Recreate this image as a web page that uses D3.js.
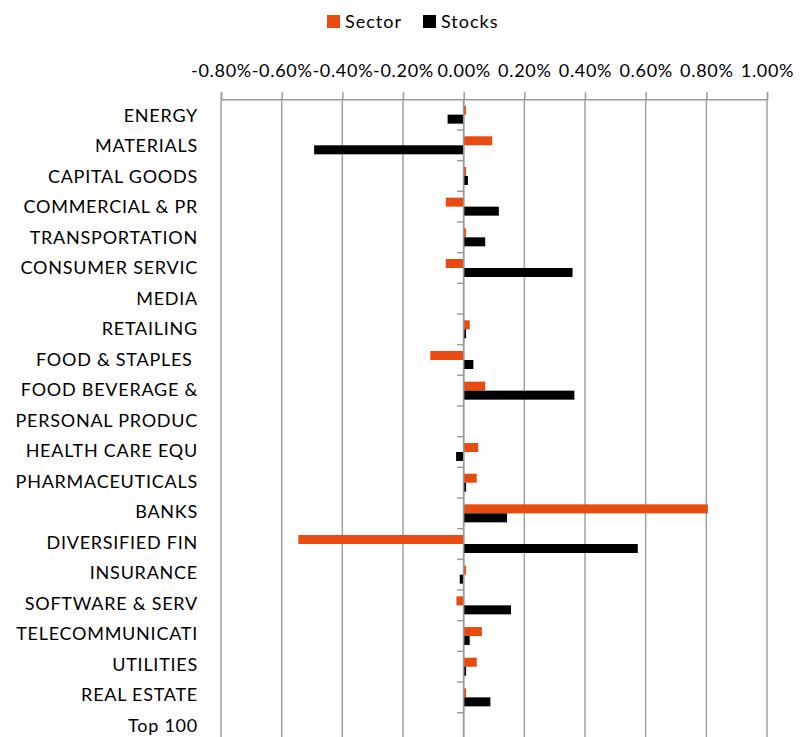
<!DOCTYPE html>
<html>
<head>
<meta charset="utf-8">
<script src="https://cdn.jsdelivr.net/npm/d3@7/dist/d3.min.js"></script>
<style>
  html, body { margin: 0; padding: 0; background: #fff; }
  svg { display: block; }
  text { font-family: Lato, "Open Sans", sans-serif; fill: #000; }
</style>
</head>
<body>
<svg id="chart" width="809" height="737"></svg>
<script>
// Sector vs. stock contribution by industry group (values in %)
const categories = [
  "ENERGY", "MATERIALS", "CAPITAL GOODS", "COMMERCIAL & PR", "TRANSPORTATION",
  "CONSUMER SERVIC", "MEDIA", "RETAILING", "FOOD & STAPLES ", "FOOD BEVERAGE &",
  "PERSONAL PRODUC", "HEALTH CARE EQU", "PHARMACEUTICALS", "BANKS", "DIVERSIFIED FIN",
  "INSURANCE", "SOFTWARE & SERV", "TELECOMMUNICATI", "UTILITIES", "REAL ESTATE", "Top 100"
];
const seriesNames = ["Sector", "Stocks"];
const sectorValues = [
  0.008, 0.094, 0.008, -0.059, 0.008,
  -0.059, 0, 0.020, -0.110, 0.071,
  0, 0.048, 0.043, 0.805, -0.545,
  0.008, -0.024, 0.060, 0.043, 0.008, 0
];
const stocksValues = [
  -0.053, -0.493, 0.014, 0.116, 0.071,
  0.359, 0, 0.008, 0.032, 0.365,
  0, -0.025, 0.008, 0.143, 0.574,
  -0.013, 0.156, 0.020, 0.008, 0.088, 0
];
const tickValues = [-0.8, -0.6, -0.4, -0.2, 0, 0.2, 0.4, 0.6, 0.8, 1.0];
const colors = { Sector: "#E84A10", Stocks: "#000000" };

const rows = categories.map((c, i) => ({
  category: c,
  values: [
    { series: "Sector", value: sectorValues[i] },
    { series: "Stocks", value: stocksValues[i] }
  ]
}));

const svg = d3.select("#chart");
const plot = { left: 221, right: 767, top: 99.3, bandH: 30.67 };
const plotBottom = plot.top + plot.bandH * categories.length;

const x = d3.scaleLinear().domain([-0.8, 1.0]).range([plot.left, plot.right]);
const y = d3.scaleBand().domain(categories).range([plot.top, plotBottom]).padding(0);
const barH = 9;
const ySub = d3.scaleBand().domain(seriesNames)
  .range([y.bandwidth() / 2 - barH, y.bandwidth() / 2 + barH]).padding(0);
// label baselines run on a slightly tighter pitch than the bands
const yLabel = d3.scalePoint().domain(categories).range([121.7, 731.7]);

// vertical gridlines
svg.append("g")
  .selectAll("line")
  .data(tickValues)
  .join("line")
  .attr("x1", d => x(d)).attr("x2", d => x(d))
  .attr("y1", plot.top).attr("y2", plotBottom)
  .attr("stroke", "#a0a0a0").attr("stroke-width", 1.5);

// value axis along the top
const xAxis = svg.append("g")
  .attr("transform", `translate(0,${plot.top})`)
  .call(d3.axisTop(x).tickValues(tickValues).tickSize(7).tickPadding(15)
    .tickFormat(d => d.toFixed(2) + "%"));
xAxis.select(".domain").attr("stroke", "#9a9a9a").attr("stroke-width", 1.5);
xAxis.selectAll(".tick line").attr("stroke", "#9a9a9a").attr("stroke-width", 1.5);
xAxis.selectAll(".tick text")
  .attr("font-family", "Lato, sans-serif").attr("font-size", 18)
  .attr("letter-spacing", 0.7).attr("fill", "#000");

// bars
const groups = svg.append("g")
  .selectAll("g")
  .data(rows)
  .join("g")
  .attr("transform", d => `translate(0,${y(d.category)})`);

groups.selectAll("rect")
  .data(d => d.values)
  .join("rect")
  .attr("x", d => x(Math.min(0, d.value)))
  .attr("width", d => Math.abs(x(d.value) - x(0)))
  .attr("y", d => ySub(d.series))
  .attr("height", ySub.bandwidth())
  .attr("fill", d => colors[d.series]);

// category axis at zero, ticks between bands
const bounds = d3.range(categories.length + 1).map(i => plot.top + i * plot.bandH);
svg.append("line")
  .attr("x1", x(0)).attr("x2", x(0))
  .attr("y1", plot.top).attr("y2", plotBottom)
  .attr("stroke", "#9a9a9a").attr("stroke-width", 1.5);
svg.append("g")
  .selectAll("line")
  .data(bounds.slice(1))
  .join("line")
  .attr("x1", x(0) - 6.5).attr("x2", x(0))
  .attr("y1", d => d).attr("y2", d => d)
  .attr("stroke", "#9a9a9a").attr("stroke-width", 1.5);

// category labels at the low side
svg.append("g")
  .selectAll("text")
  .data(categories)
  .join("text")
  .attr("x", 198)
  .attr("y", d => yLabel(d))
  .attr("text-anchor", "end")
  .attr("font-size", 18)
  .attr("letter-spacing", 0.75)
  .style("white-space", "pre")
  .text(d => d);

// legend
const legend = svg.append("g").attr("transform", "translate(327,15)");
const legendItems = [
  { name: "Sector", dx: 0 },
  { name: "Stocks", dx: 96 }
];
const li = legend.selectAll("g").data(legendItems).join("g")
  .attr("transform", d => `translate(${d.dx},0)`);
li.append("rect").attr("width", 13).attr("height", 13)
  .attr("fill", d => colors[d.name]);
li.append("text").attr("x", 18).attr("y", 13)
  .attr("font-size", 18).attr("letter-spacing", 1)
  .text(d => d.name);
</script>
</body>
</html>
